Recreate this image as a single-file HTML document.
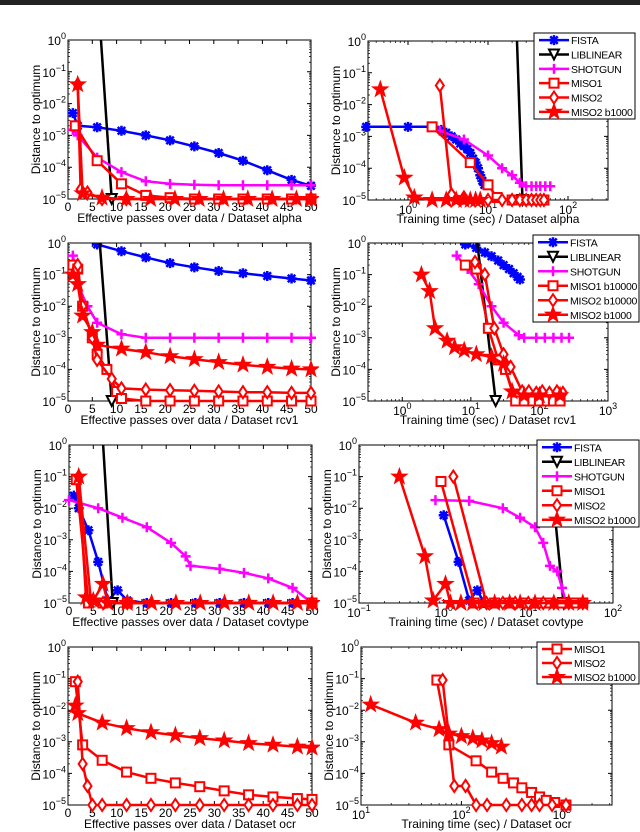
<!DOCTYPE html>
<html><head><meta charset="utf-8"><style>
html,body{margin:0;padding:0;background:#fff;}
svg{display:block;font-family:"Liberation Sans",sans-serif;}
</style></head><body>
<svg id="fig" width="640" height="832" viewBox="0 0 640 832" xmlns="http://www.w3.org/2000/svg">
<rect x="0" y="0" width="640" height="5" fill="#222"/>
</svg>
<script>
// ---- data (x, distance-to-optimum) ----
const alphaPassFista=[[1,5e-3],[2,2e-3],[6,1.8e-3],[11,1.4e-3],[16,1e-3],[21,7e-4],[26,4.5e-4],[31,2.8e-4],[36,1.6e-4],[41,8e-5],[46,4e-5],[50,2.6e-5]];
const alphaPassLib=[[6.7,1.5],[9,1e-5]];
const alphaPassShot=[[1,1.5e-3],[2,1e-3],[6,2e-4],[11,7e-5],[16,3.6e-5],[21,3e-5],[26,2.8e-5],[31,2.7e-5],[36,2.7e-5],[41,2.7e-5],[46,2.7e-5],[50,2.7e-5]];
const alphaPassMiso1=[[1.5,2e-3],[6,1.6e-4],[11,3e-5],[16,1.3e-5],[21,1.1e-5],[26,1e-5],[31,1e-5],[36,1e-5],[41,1e-5],[46,1e-5],[50,1e-5]];
const alphaPassMiso2=[[2,4e-2],[2.6,2e-5],[4,1.6e-5],[7,1e-5],[12,1e-5],[50,1e-5]];
const alphaPassMisoB=[[2,4e-2],[3,1.5e-5],[7,1.1e-5],[12,1e-5],[17,1e-5],[22,1e-5],[27,1e-5],[32,1e-5],[37,1e-5],[42,1e-5],[47,1e-5],[50,1e-5]];

const alphaTimeFista=[[0.3,2e-3],[1,2e-3],[2,2e-3],[2.6,1.6e-3],[3,1.3e-3],[3.5,1e-3],[4,8e-4],[4.5,6e-4],[5,5e-4],[5.5,4e-4],[6,3e-4],[6.5,2e-4],[7,1.5e-4],[7.5,1e-4],[8,6e-5],[8.5,4e-5],[9,3e-5]];
const alphaTimeLib=[[23,1.2],[27,1e-5]];
const alphaTimeShot=[[2.5,1.5e-3],[5,8e-4],[10,2.5e-4],[15,1e-4],[20,6e-5],[25,3.5e-5],[30,2.7e-5],[35,2.7e-5],[40,2.7e-5],[45,2.7e-5],[52,2.7e-5],[60,2.7e-5]];
const alphaTimeMiso1=[[2,2e-3],[6,1.5e-4],[10,3e-5],[13,1.2e-5],[20,1e-5],[30,1e-5],[40,1e-5],[50,1e-5]];
const alphaTimeMiso2=[[2.5,4e-2],[3.5,1.5e-5],[5,1.2e-5],[10,1e-5],[15,1e-5],[20,1e-5],[25,1e-5],[30,1e-5],[35,1e-5],[40,1e-5],[45,1e-5],[50,1e-5]];
const alphaTimeMisoB=[[0.45,3e-2],[0.9,5e-5],[1.2,1.2e-5],[2,1e-5],[3,1e-5],[4,1e-5],[5,1e-5],[6,1e-5],[7,1e-5],[8,1e-5]];

const rcvPassFista=[[6,0.9],[11,0.55],[16,0.35],[21,0.23],[26,0.17],[31,0.13],[36,0.11],[41,0.09],[46,0.075],[50,0.065]];
const rcvPassLib=[[6.5,1.2],[9,1e-5]];
const rcvPassShot=[[1,0.4],[2,0.05],[4,0.01],[6,3e-3],[11,1.3e-3],[16,1e-3],[21,1e-3],[26,1e-3],[31,1e-3],[36,1e-3],[41,1e-3],[46,1e-3],[50,1e-3]];
const rcvPassMiso1=[[1,0.2],[2,0.15],[3,0.01],[5,1e-3],[6,3e-4],[8,1e-4],[10,2e-5],[11,1.2e-5],[16,1e-5],[21,1e-5],[26,1e-5],[31,1e-5],[36,1e-5],[41,1e-5],[46,1e-5],[50,1e-5]];
const rcvPassMiso2=[[2,0.2],[3,0.01],[5,1e-3],[6,2e-4],[9,5e-5],[11,2.5e-5],[16,2.3e-5],[21,2.2e-5],[26,2.1e-5],[31,2e-5],[36,1.9e-5],[41,1.9e-5],[46,1.8e-5],[50,1.8e-5]];
const rcvPassMisoB=[[1,0.1],[2,0.05],[3,5e-3],[5,1.5e-3],[6,6e-4],[11,4.5e-4],[16,3.5e-4],[21,2.6e-4],[26,2.1e-4],[31,1.7e-4],[36,1.4e-4],[41,1.2e-4],[46,1.05e-4],[50,1e-4]];

const rcvTimeFista=[[8.3,0.9],[12,0.7],[16,0.5],[20,0.38],[25,0.28],[30,0.2],[36,0.15],[42,0.11],[48,0.085],[52,0.07]];
const rcvTimeLib=[[12.3,1.2],[23,1e-5]];
const rcvTimeShot=[[6.2,0.4],[9,0.15],[13,0.05],[20,0.01],[30,3e-3],[50,1.2e-3],[60,1e-3],[90,1e-3],[120,1e-3],[160,1e-3],[210,1e-3],[270,1e-3]];
const rcvTimeMiso1=[[8.3,0.2],[12,0.15],[18,2e-3],[25,2e-4],[32,1e-4],[45,1e-5],[60,1e-5],[80,1e-5],[100,1e-5],[130,1e-5],[160,1e-5],[200,1e-5]];
const rcvTimeMiso2=[[11.5,0.25],[16,0.1],[22,2e-3],[30,3e-4],[38,1.2e-4],[56,2e-5],[70,2e-5],[90,1.8e-5],[110,2e-5],[140,1.8e-5],[180,2e-5],[220,1.8e-5]];
const rcvTimeMisoB=[[1.9,0.1],[2.5,0.03],[3,2e-3],[4.5,8e-4],[5.8,5e-4],[8,4e-4],[12,3e-4],[20,2.5e-4],[30,1.5e-4],[40,2e-5],[60,1.5e-5],[100,1.5e-5],[200,1.5e-5]];

const covPassFista=[[1,0.025],[2,0.01],[4,2e-3],[6,2e-4],[8,1.2e-5],[10,2.5e-5],[12,1.2e-5],[16,1e-5],[21,1e-5],[26,1e-5],[31,1e-5],[36,1e-5],[41,1e-5],[46,1e-5],[50,1e-5]];
const covPassLib=[[7,1.2],[9,1e-5]];
const covPassShot=[[0,0.018],[6,0.01],[11,5e-3],[16,2.5e-3],[21,8e-4],[24,3e-4],[25,1.5e-4],[31,1.2e-4],[36,9e-5],[41,6e-5],[46,3e-5],[50,1e-5]];
const covPassMiso1=[[1.5,0.08],[4,1e-5],[7,1e-5],[12,1e-5],[50,1e-5]];
const covPassMiso2=[[2,0.1],[4.5,1.2e-5],[7,1e-5],[12,1e-5],[50,1e-5]];
const covPassMisoB=[[2,0.1],[3.5,1.5e-5],[5,1.2e-5],[7,4e-5],[8,1e-5],[12,1e-5],[17,1e-5],[22,1e-5],[27,1e-5],[32,1e-5],[37,1e-5],[42,1e-5],[47,1e-5],[50,1e-5]];

const covTimeFista=[[1,6e-3],[1.5,2e-4],[2,1.2e-5],[2.5,2.5e-5],[3,1e-5],[5,1e-5],[10,1e-5],[20,1e-5],[30,1e-5],[45,1e-5]];
const covTimeLib=[[17,1.2],[26,1e-5]];
const covTimeShot=[[0.8,0.018],[2,0.017],[5,0.01],[8,5e-3],[12,2.5e-3],[15,8e-4],[18,1.5e-4],[22,1e-4],[25,3e-5],[28,1e-5]];
const covTimeMiso1=[[0.93,0.07],[2.3,1e-5],[4,1e-5],[6,1e-5],[9,1e-5],[13,1e-5],[18,1e-5],[25,1e-5],[35,1e-5],[44,1e-5]];
const covTimeMiso2=[[1.3,0.1],[3.2,1e-5],[5,1e-5],[7,1e-5],[10,1e-5],[15,1e-5],[20,1e-5],[30,1e-5],[44,1e-5]];
const covTimeMisoB=[[0.3,0.1],[0.6,3e-4],[0.75,1.2e-5],[1.05,4e-5],[1.2,1e-5],[1.6,1e-5],[2.2,1e-5],[3,1e-5],[4,1e-5],[6,1e-5],[8,1e-5],[12,1e-5],[20,1e-5],[30,1e-5],[44,1e-5]];

const ocrPassMiso1=[[1.5,0.08],[3,8e-4],[7,2.6e-4],[12,1.1e-4],[17,7e-5],[22,5e-5],[27,3.8e-5],[32,2.8e-5],[37,2.1e-5],[42,1.8e-5],[47,1.6e-5],[50,1.5e-5]];
const ocrPassMiso2=[[2,0.08],[3,2e-4],[4,4e-5],[5,1e-5],[7,1e-5],[12,1e-5],[17,1e-5],[22,1e-5],[27,1e-5],[32,1e-5],[37,1e-5],[42,1e-5],[47,1e-5],[50,1e-5]];
const ocrPassMisoB=[[1.5,0.014],[2,8e-3],[7,4e-3],[12,2.7e-3],[17,2e-3],[22,1.6e-3],[27,1.3e-3],[32,1.1e-3],[37,9e-4],[42,8e-4],[47,7e-4],[50,6.5e-4]];

const ocrTimeMiso1=[[57,0.09],[75,8e-4],[140,2.5e-4],[200,1.1e-4],[260,7e-5],[330,5e-5],[400,3.5e-5],[500,2.5e-5],[600,1.8e-5],[700,1.4e-5],[850,1.2e-5],[1100,1e-5]];
const ocrTimeMiso2=[[65,0.09],[85,4e-5],[110,4e-5],[140,1e-5],[180,1e-5],[280,1e-5],[400,1e-5],[500,1e-5],[600,1e-5],[800,1e-5],[1100,1e-5]];
const ocrTimeMisoB=[[12.5,0.015],[35,4e-3],[60,2.5e-3],[75,1.8e-3],[100,1.5e-3],[130,1.3e-3],[160,1.1e-3],[200,9e-4],[250,7e-4]];

const yExps=[0,-1,-2,-3,-4,-5];
const passTicks=[0,5,10,15,20,25,30,35,40,45,50];
const fullNames=['FISTA','LIBLINEAR','SHOTGUN','MISO1','MISO2','MISO2 b1000'];
const rcvNames=['FISTA','LIBLINEAR','SHOTGUN','MISO1 b10000','MISO2 b10000','MISO2 b1000'];
const ocrNames=['MISO1','MISO2','MISO2 b1000'];

const NS='http://www.w3.org/2000/svg';
const fig=document.getElementById('fig');
const STY={fista:['#0000ff','ast'],lib:['#000','tri'],shot:['#ff00ff','plus'],m1:['#ff0000','sq'],m2:['#ff0000','dia'],mb:['#ff0000','star']};
function mk(tag,attrs,parent){const e=document.createElementNS(NS,tag);for(const k in attrs)e.setAttribute(k,attrs[k]);(parent||fig).appendChild(e);return e;}
function marker(g,type,color,x,y){
  const s=5;let e;
  if(type==='ast'){e=mk('path',{d:`M${x-s} ${y}H${x+s}M${x} ${y-s}V${y+s}M${x-s*.75} ${y-s*.75}L${x+s*.75} ${y+s*.75}M${x-s*.75} ${y+s*.75}L${x+s*.75} ${y-s*.75}`,stroke:color,'stroke-width':2.5,fill:'none'},g);}
  else if(type==='tri'){e=mk('path',{d:`M${x-s} ${y-s}H${x+s}L${x} ${y+s}Z`,stroke:color,'stroke-width':2,fill:'#fff'},g);}
  else if(type==='plus'){e=mk('path',{d:`M${x-s} ${y}H${x+s}M${x} ${y-s}V${y+s}`,stroke:color,'stroke-width':2.5,fill:'none'},g);}
  else if(type==='sq'){e=mk('rect',{x:x-4.5,y:y-4.5,width:9,height:9,stroke:color,'stroke-width':2,fill:'#fff'},g);}
  else if(type==='dia'){e=mk('path',{d:`M${x} ${y-6}L${x+4} ${y}L${x} ${y+6}L${x-4} ${y}Z`,stroke:color,'stroke-width':2,fill:'#fff'},g);}
  else {let d='';for(let i=0;i<10;i++){const r=i%2?3:7.5,a=-Math.PI/2+i*Math.PI/5;d+=(i?'L':'M')+(x+r*Math.cos(a)).toFixed(1)+' '+(y+r*Math.sin(a)).toFixed(1);}
    e=mk('path',{d:d+'Z',stroke:color,'stroke-width':1.5,fill:color},g);}
  
  
}
function tenPow(parent,x,y,exp,anchor,name){
  const t=mk('text',{x:x,y:y,'font-size':12,'text-anchor':anchor,fill:'#000'},parent);
  
  
  t.appendChild(document.createTextNode('10'));
  const sp=mk('tspan',{dy:-6,'font-size':9},t);sp.textContent=String(exp).replace('-','\u2212');
}
let clipId=0;
function panel(c){
  const g=mk('g',{});
  
  
  const X=c.log?(v=>c.x0+(Math.log10(v)-c.xmin)/(c.xmax-c.xmin)*(c.x1-c.x0)):(v=>c.x0+(v-0)/50*(c.x1-c.x0));
  const Y=v=>c.y0+(0-Math.log10(v))/5*(c.y1-c.y0);
  const fr=mk('rect',{x:c.x0,y:c.y0,width:c.x1-c.x0,height:c.y1-c.y0,fill:'#fff',stroke:'#000','stroke-width':1},g);
  
  
  yExps.forEach(e=>{const yy=c.y0+(-e)/5*(c.y1-c.y0);
    mk('path',{d:`M${c.x0} ${yy}h4M${c.x1} ${yy}h-4`,stroke:'#000','stroke-width':1},g);
    if(e>-5){for(let m=2;m<10;m++){const ym=Y(m*Math.pow(10,e-1));mk('path',{d:`M${c.x0} ${ym}h2M${c.x1} ${ym}h-2`,stroke:'#000','stroke-width':0.7},g);}}
    tenPow(g,c.x0-2,yy+5,e,'end','y-tick-label');});
  if(c.log){for(let e=Math.ceil(c.xmin);e<=Math.floor(c.xmax+1e-9);e++){const xx=X(Math.pow(10,e));
      mk('path',{d:`M${xx} ${c.y1}v-4M${xx} ${c.y0}v4`,stroke:'#000'},g);
      tenPow(g,xx,c.y1+14,e,'middle','x-tick-label');}
    for(let e=Math.floor(c.xmin);e<c.xmax;e++)for(let m=2;m<10;m++){const v=Math.log10(m)+e;if(v<=c.xmin||v>=c.xmax)continue;const xm=X(Math.pow(10,v));mk('path',{d:`M${xm} ${c.y1}v-2M${xm} ${c.y0}v2`,stroke:'#000','stroke-width':0.7},g);}
  } else {passTicks.forEach(v=>{const xx=X(v);mk('path',{d:`M${xx} ${c.y1}v-4M${xx} ${c.y0}v4`,stroke:'#000'},g);
      const t=mk('text',{x:xx,y:c.y1+12,'font-size':12,'text-anchor':'middle'},g);
      
      
      t.textContent=v;});}
  const xl=mk('text',{x:(c.x0+c.x1)/2+(c.xlOff||0),y:c.y1+23,'font-size':12,'text-anchor':'middle'},g);
  
  
  xl.textContent=c.xlabel;
  const yl=mk('text',{x:0,y:0,'font-size':12,'text-anchor':'middle',transform:`translate(${c.x0-28},${(c.y0+c.y1)/2}) rotate(-90)`},g);
  
  
  yl.textContent='Distance to optimum';
  clipId++;const cp=mk('clipPath',{id:'cp'+clipId},g);mk('rect',{x:c.x0-8,y:c.y0,width:c.x1-c.x0+16,height:c.y1-c.y0+8},cp);
  const sg=mk('g',{'clip-path':`url(#cp${clipId})`},g);
  c.series.forEach(([key,data])=>{const [col,mt]=STY[key];
    const pts=data.map(p=>X(p[0]).toFixed(1)+','+Y(p[1]).toFixed(1)).join(' ');
    const pl=mk('polyline',{points:pts,fill:'none',stroke:col,'stroke-width':2.5,'stroke-linejoin':'round'},sg);
    
    
    data.forEach(p=>{if(p[1]<=1)marker(sg,mt,col,X(p[0]),Y(p[1]));});});
  if(c.legend){const L=c.legend;const lg=mk('g',{},g);
    
    
    mk('rect',{x:L.x,y:L.y,width:L.w,height:L.h,fill:'#fff',stroke:'#000'},lg);
    const rowH=L.h/L.keys.length;
    L.keys.forEach((k,i)=>{const [col,mt]=STY[k];const cy=L.y+rowH*(i+0.5);
      const ent=mk('g',{},lg);
      
      
      mk('path',{d:`M${L.x+5} ${cy}h30`,stroke:col,'stroke-width':2.5},ent);
      marker(ent,mt,col,L.x+20,cy);
      const t=mk('text',{x:L.x+37,y:cy+4,'font-size':10.5,'letter-spacing':'-0.3'},ent);t.textContent=L.names[i];});}
}
const FULLK=['fista','lib','shot','m1','m2','mb'];
panel({name:'alpha-passes-chart',x0:68,x1:311,y0:40,y1:199,log:false,xlabel:'Effective passes over data / Dataset alpha',
  series:[['fista',alphaPassFista],['lib',alphaPassLib],['shot',alphaPassShot],['m1',alphaPassMiso1],['m2',alphaPassMiso2],['mb',alphaPassMisoB]]});
panel({name:'alpha-time-chart',x0:368,x1:608,y0:41,y1:200,log:true,xmin:-0.5,xmax:2.5,xlabel:'Training time (sec) / Dataset alpha',
  series:[['fista',alphaTimeFista],['lib',alphaTimeLib],['shot',alphaTimeShot],['m1',alphaTimeMiso1],['m2',alphaTimeMiso2],['mb',alphaTimeMisoB]],
  legend:{x:534,y:33,w:101,h:86,keys:FULLK,names:fullNames}});
panel({name:'rcv1-passes-chart',x0:68,x1:311,y0:243,y1:401,log:false,xlabel:'Effective passes over data / Dataset rcv1',
  series:[['fista',rcvPassFista],['lib',rcvPassLib],['shot',rcvPassShot],['m1',rcvPassMiso1],['m2',rcvPassMiso2],['mb',rcvPassMisoB]]});
panel({name:'rcv1-time-chart',x0:368,x1:608,y0:243,y1:401,log:true,xmin:-0.5,xmax:3,xlabel:'Training time (sec) / Dataset rcv1',
  series:[['fista',rcvTimeFista],['lib',rcvTimeLib],['shot',rcvTimeShot],['m1',rcvTimeMiso1],['m2',rcvTimeMiso2],['mb',rcvTimeMisoB]],
  legend:{x:533,y:235,w:106,h:87,keys:FULLK,names:rcvNames}});
panel({name:'covtype-passes-chart',x0:69,x1:312,y0:445,y1:603,log:false,xlabel:'Effective passes over data / Dataset covtype',
  series:[['fista',covPassFista],['lib',covPassLib],['shot',covPassShot],['m1',covPassMiso1],['m2',covPassMiso2],['mb',covPassMisoB]]});
panel({name:'covtype-time-chart',x0:359,x1:613,y0:445,y1:603,log:true,xmin:-1,xmax:2,xlabel:'Training time (sec) / Dataset covtype',
  series:[['fista',covTimeFista],['lib',covTimeLib],['shot',covTimeShot],['m1',covTimeMiso1],['m2',covTimeMiso2],['mb',covTimeMisoB]],
  legend:{x:537,y:440,w:102,h:87,keys:FULLK,names:fullNames}});
panel({name:'ocr-passes-chart',x0:68,x1:312,y0:647,y1:805,log:false,xlabel:'Effective passes over data / Dataset ocr',
  series:[['m1',ocrPassMiso1],['m2',ocrPassMiso2],['mb',ocrPassMisoB]]});
panel({name:'ocr-time-chart',x0:361,x1:612,y0:647,y1:805,log:true,xmin:1,xmax:3.5,xlabel:'Training time (sec) / Dataset ocr',
  series:[['m1',ocrTimeMiso1],['m2',ocrTimeMiso2],['mb',ocrTimeMisoB]],
  legend:{x:537,y:642,w:102,h:42,keys:['m1','m2','mb'],names:ocrNames}});
</script>
</body></html>
